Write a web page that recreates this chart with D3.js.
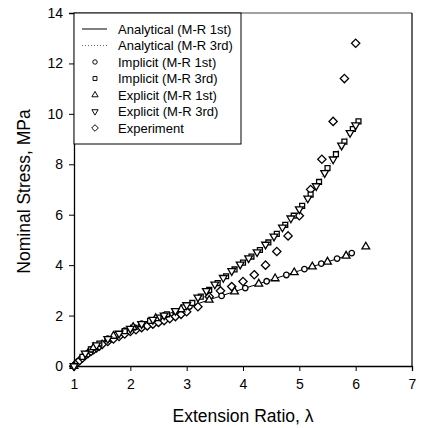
<!DOCTYPE html>
<html>
<head>
<meta charset="utf-8">
<script src="https://cdn.jsdelivr.net/npm/d3@7"></script>
<style>
  body { margin: 0; background: #fff; }
  text { font-family: "Liberation Sans", Arial, sans-serif; fill: #000; }
</style>
</head>
<body>
<svg width="421" height="428"></svg>
<script>
// ---- data ----
var xTicks = [1, 2, 3, 4, 5, 6, 7];
var yTicks = [0, 2, 4, 6, 8, 10, 12, 14];

// Analytical Mooney-Rivlin 1st order (solid line)
var mr1Lambda = [1, 1.25, 1.5, 1.75, 2, 2.5, 3, 3.5, 4, 4.5, 5, 5.5, 5.95];
var mr1Stress = [0, 0.58, 0.96, 1.25, 1.50, 1.93, 2.32, 2.70, 3.06, 3.42, 3.78, 4.13, 4.45];

// Analytical Mooney-Rivlin 3rd order (dotted line)
var mr3Lambda = [1, 1.25, 1.5, 1.75, 2, 2.25, 2.5, 2.75, 3, 3.25, 3.5, 3.75, 4, 4.25, 4.5, 4.75, 5, 5.25, 5.5, 5.75, 6, 6.05];
var mr3Stress = [0, 0.58, 0.95, 1.24, 1.48, 1.70, 1.92, 2.13, 2.40, 2.75, 3.20, 3.65, 4.10, 4.50, 5.00, 5.60, 6.20, 6.95, 7.85, 8.75, 9.55, 9.70];

// Implicit (M-R 1st) - circles
var imp1Lambda = [1, 1.3, 1.6, 1.9, 2.2, 2.6, 3.05, 3.62, 4.04, 4.42, 4.77, 5.09, 5.39, 5.67, 5.93];
var imp1Stress = [0, 0.66, 1.08, 1.40, 1.68, 2.01, 2.36, 2.78, 3.09, 3.36, 3.61, 3.84, 4.06, 4.26, 4.48];

// Implicit (M-R 3rd) - squares
var imp3Lambda = [1, 1.15, 1.3, 1.45, 1.6, 1.75, 1.9, 2.05, 2.2, 2.35, 2.5, 2.65, 2.8, 2.95, 3.1, 3.25, 3.4, 3.55, 3.7, 3.85, 4, 4.15, 4.3, 4.45, 4.6, 4.75, 4.9, 5.05, 5.2, 5.35, 5.5, 5.65, 5.8, 5.95, 6.05];
var imp3Stress = [0, 0.36, 0.66, 0.89, 1.07, 1.24, 1.38, 1.52, 1.66, 1.79, 1.92, 2.05, 2.18, 2.33, 2.50, 2.75, 3.02, 3.29, 3.56, 3.83, 4.10, 4.34, 4.60, 4.90, 5.24, 5.60, 5.96, 6.35, 6.80, 7.30, 7.85, 8.40, 8.90, 9.40, 9.70];

// Explicit (M-R 1st) - up triangles
var exp1Lambda = [1, 1.35, 1.7, 2.05, 2.45, 2.9, 3.4, 3.85, 4.28, 4.57, 4.91, 5.23, 5.5, 5.83, 6.18];
var exp1Stress = [0, 0.74, 1.19, 1.54, 1.89, 2.24, 2.62, 2.95, 3.26, 3.47, 3.71, 3.94, 4.13, 4.37, 4.73];

// Explicit (M-R 3rd) - down triangles
var exp3Lambda = [1, 1.2, 1.4, 1.6, 1.8, 2, 2.2, 2.4, 2.6, 2.8, 3, 3.2, 3.35, 3.5, 3.65, 3.8, 3.95, 4.1, 4.25, 4.4, 4.55, 4.7, 4.85, 5, 5.15, 5.3, 5.45, 5.6, 5.75, 5.9, 6];
var exp3Stress = [0, 0.50, 0.83, 1.08, 1.29, 1.48, 1.67, 1.84, 2.01, 2.19, 2.42, 2.72, 2.98, 3.24, 3.50, 3.77, 4.03, 4.28, 4.52, 4.82, 5.14, 5.50, 5.86, 6.22, 6.65, 7.14, 7.66, 8.20, 8.75, 9.25, 9.55];

// Experiment - diamonds
var testLambda = [1, 1.05, 1.1, 1.15, 1.2, 1.25, 1.3, 1.35, 1.4, 1.45, 1.5, 1.6, 1.7, 1.8, 1.9, 2, 2.1, 2.2, 2.3, 2.4, 2.5, 2.6, 2.7, 2.8, 2.9, 3, 3.2, 3.4, 3.6, 3.8, 4, 4.2, 4.4, 4.6, 4.8, 5, 5.2, 5.4, 5.6, 5.8, 6];
var testStress = [0, 0.12, 0.22, 0.32, 0.42, 0.50, 0.58, 0.65, 0.72, 0.79, 0.86, 0.97, 1.07, 1.17, 1.27, 1.37, 1.44, 1.52, 1.59, 1.66, 1.73, 1.80, 1.88, 1.96, 2.05, 2.15, 2.35, 2.75, 2.98, 3.15, 3.35, 3.62, 4.00, 4.54, 5.16, 5.96, 7.00, 8.20, 9.70, 11.40, 12.80];

var legendLabels = ["Analytical (M-R 1st)", "Analytical (M-R 3rd)", "Implicit (M-R 1st)", "Implicit (M-R 3rd)", "Explicit (M-R 1st)", "Explicit (M-R 3rd)", "Experiment"];

// ---- layout ----
var svg = d3.select("svg"),
    margin = {top: 13, right: 9, bottom: 62, left: 74},
    width = +svg.attr("width") - margin.left - margin.right,
    height = +svg.attr("height") - margin.top - margin.bottom,
    g = svg.append("g").attr("transform", "translate(" + margin.left + "," + margin.top + ")");

var x = d3.scaleLinear().domain([1, 7]).range([0, width]);
var y = d3.scaleLinear().domain([0, 14]).range([height, 0]);

function zip(a, b) { return a.map(function(v, i) { return [v, b[i]]; }); }

var diamond = d3.symbolDiamond2 || d3.symbolDiamond;
var symbols = {
  circle: d3.symbol().type(d3.symbolCircle).size(24),
  square: d3.symbol().type(d3.symbolSquare).size(24),
  triUp: d3.symbol().type(d3.symbolTriangle).size(26),
  triDown: d3.symbol().type(d3.symbolTriangle).size(26),
  diamond: d3.symbol().type(diamond).size(44)
};

// frame: top + right
g.append("line").attr("x1", 0).attr("x2", width).attr("y1", 0).attr("y2", 0)
  .attr("stroke", "#444").attr("stroke-width", 1);
g.append("line").attr("x1", width).attr("x2", width).attr("y1", 0).attr("y2", height)
  .attr("stroke", "#000").attr("stroke-width", 1.2);

// axes
var xAxis = g.append("g")
  .attr("transform", "translate(0," + height + ")")
  .call(d3.axisBottom(x).tickValues(xTicks).tickFormat(d3.format("d")).tickSize(5).tickPadding(8));
var yAxis = g.append("g")
  .call(d3.axisLeft(y).tickValues(yTicks).tickFormat(d3.format("d")).tickSize(5).tickPadding(6));
[xAxis, yAxis].forEach(function(a) {
  a.select(".domain").attr("stroke", "#000").attr("stroke-width", 1.3);
  a.selectAll(".tick line").attr("stroke", "#000");
  a.selectAll(".tick text").style("font-size", "14px").attr("fill", "#000");
});

// analytical lines
var line = d3.line()
  .x(function(d) { return x(d[0]); })
  .y(function(d) { return y(d[1]); })
  .curve(d3.curveMonotoneX);

g.append("path").datum(zip(mr1Lambda, mr1Stress))
  .attr("d", line).attr("fill", "none").attr("stroke", "#000").attr("stroke-width", 1);
g.append("path").datum(zip(mr3Lambda, mr3Stress))
  .attr("d", line).attr("fill", "none").attr("stroke", "#666").attr("stroke-width", 1)
  .attr("stroke-dasharray", "1,2");

function drawMarkers(data, sym, rot) {
  g.append("g").selectAll("path")
    .data(data)
    .enter().append("path")
      .attr("d", sym)
      .attr("transform", function(d) { return "translate(" + x(d[0]) + "," + y(d[1]) + ")" + (rot ? " rotate(" + rot + ")" : ""); })
      .attr("fill", "#fff")
      .attr("stroke", "#000")
      .attr("stroke-width", 1.3);
}

drawMarkers(zip(testLambda, testStress), symbols.diamond);
drawMarkers(zip(imp1Lambda, imp1Stress), symbols.circle);
drawMarkers(zip(imp3Lambda, imp3Stress), symbols.square);
drawMarkers(zip(exp1Lambda, exp1Stress), symbols.triUp);
drawMarkers(zip(exp3Lambda, exp3Stress), symbols.triDown, 180);

// axis titles
svg.append("text")
  .attr("x", margin.left + width / 2)
  .attr("y", 422)
  .attr("text-anchor", "middle")
  .style("font-size", "17.5px")
  .text("Extension Ratio, \u03bb");
svg.append("text")
  .attr("transform", "translate(30," + (margin.top + height / 2 + 2) + ") rotate(-90)")
  .attr("text-anchor", "middle")
  .style("font-size", "17.5px")
  .text("Nominal Stress, MPa");

// legend
var legend = g.append("g");
legend.append("rect")
  .attr("x", 0).attr("y", 0)
  .attr("width", 167).attr("height", 131)
  .attr("fill", "#fff").attr("stroke", "#000").attr("stroke-width", 1);

var rows = legend.selectAll("g.row")
  .data(legendLabels)
  .enter().append("g")
    .attr("class", "row")
    .attr("transform", function(d, i) { return "translate(0," + (16 + i * 16.5) + ")"; });

rows.append("text")
  .attr("x", 44)
  .attr("dy", "0.35em")
  .style("font-size", "13px")
  .text(function(d) { return d; });

var legendSyms = [null, null, symbols.circle, symbols.square, symbols.triUp, symbols.triDown, symbols.diamond];
rows.each(function(d, i) {
  var r = d3.select(this);
  if (i === 0) {
    r.append("line").attr("x1", 8).attr("x2", 33).attr("y1", 0).attr("y2", 0)
      .attr("stroke", "#000").attr("stroke-width", 1);
  } else if (i === 1) {
    r.append("line").attr("x1", 8).attr("x2", 33).attr("y1", 0).attr("y2", 0)
      .attr("stroke", "#666").attr("stroke-width", 1).attr("stroke-dasharray", "1,2");
  } else {
    r.append("path").attr("d", legendSyms[i])
      .attr("transform", "translate(21,0)" + (i === 5 ? " rotate(180)" : "") + " scale(0.8)")
      .attr("fill", "#fff").attr("stroke", "#000").attr("stroke-width", 1.2);
  }
});
</script>
</body>
</html>
